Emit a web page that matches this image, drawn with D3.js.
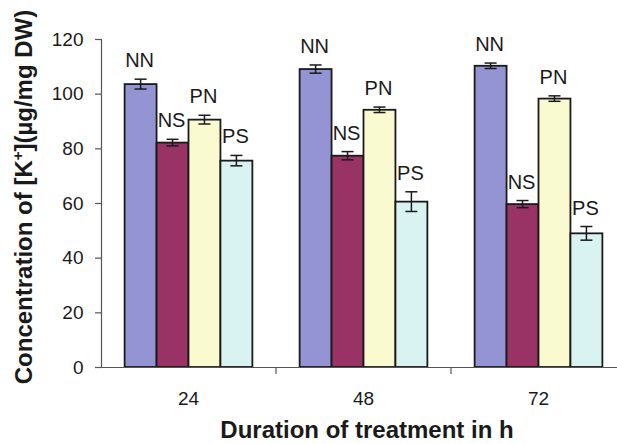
<!DOCTYPE html>
<html>
<head>
<meta charset="utf-8">
<script src="https://cdn.jsdelivr.net/npm/d3@7"></script>
<style>
  body { margin: 0; background: #fff; }
  svg { display: block; font-family: "Liberation Sans", Arial, sans-serif; }
</style>
</head>
<body>
<div id="chart"></div>
<script>
const hours = ['24', '48', '72'];
const treatments = ['NN', 'NS', 'PN', 'PS'];
const colors = ['#9494d4', '#993366', '#fafad0', '#d8f3f2'];
// mean K+ per treatment, one array per time point
const values = [
    [103.5, 82.1, 90.5, 75.5],
    [109.0, 77.3, 94.1, 60.5],
    [110.2, 59.6, 98.2, 48.9]
];
const errors = [
    [1.8, 1.2, 1.6, 1.9],
    [1.5, 1.5, 1.0, 3.6],
    [1.0, 1.3, 1.0, 2.5]
];
const yTicks = [0, 20, 40, 60, 80, 100, 120];

const width = 617, height = 444;
const margin = { top: 39, right: -9, bottom: 77, left: 101 };
const innerW = width - margin.left - margin.right;
const innerH = height - margin.top - margin.bottom;

const svg = d3.select('#chart')
    .append('svg')
    .attr('width', width)
    .attr('height', height);

const g = svg.append('g')
    .attr('transform', `translate(${margin.left}, ${margin.top})`);

const x = d3.scaleBand()
    .domain(hours)
    .range([0, innerW])
    .paddingInner(0.27)
    .paddingOuter(0.135);

const xi = d3.scaleBand()
    .domain(treatments)
    .range([0, x.bandwidth()]);

const y = d3.scaleLinear()
    .domain([0, 120])
    .range([innerH, 0]);

const data = [];
hours.forEach((h, i) => {
    treatments.forEach((t, j) => {
        data.push({ hour: h, treat: t, color: colors[j], value: values[i][j], err: errors[i][j] });
    });
});

const bar = g.selectAll('g.bar')
    .data(data)
    .enter()
    .append('g')
    .attr('class', 'bar')
    .attr('transform', d => `translate(${x(d.hour) + xi(d.treat)}, 0)`);

bar.append('rect')
    .attr('x', 0)
    .attr('y', d => y(d.value))
    .attr('width', xi.bandwidth())
    .attr('height', d => innerH - y(d.value))
    .attr('fill', d => d.color)
    .attr('stroke', '#1a1a1a')
    .attr('stroke-width', 1.8);

const cx = xi.bandwidth() / 2;
bar.append('line')
    .attr('x1', cx).attr('x2', cx)
    .attr('y1', d => y(d.value + d.err))
    .attr('y2', d => y(d.value - d.err))
    .attr('stroke', '#1a1a1a')
    .attr('stroke-width', 1.5);

bar.selectAll('line.cap')
    .data(d => [d.value + d.err, d.value - d.err])
    .enter()
    .append('line')
    .attr('class', 'cap')
    .attr('x1', cx - 6).attr('x2', cx + 6)
    .attr('y1', v => y(v)).attr('y2', v => y(v))
    .attr('stroke', '#1a1a1a')
    .attr('stroke-width', 1.5);

bar.append('text')
    .attr('x', cx - 1)
    .attr('y', d => y(d.value + d.err) - 12)
    .attr('text-anchor', 'middle')
    .style('font-size', '20px')
    .style('fill', '#1a1a1a')
    .text(d => d.treat);

// axes
const yAxis = g.append('g')
    .call(d3.axisLeft(y).tickValues(yTicks).tickSize(6).tickPadding(11.5));

const xAxis = g.append('g')
    .attr('transform', `translate(0, ${innerH})`)
    .call(d3.axisBottom(x).tickSize(0).tickPadding(24.5));

// tick marks between groups
g.append('g')
    .selectAll('line')
    .data(hours.slice(1))
    .enter()
    .append('line')
    .attr('x1', d => x(d) - x.step() * x.paddingInner() / 2)
    .attr('x2', d => x(d) - x.step() * x.paddingInner() / 2)
    .attr('y1', innerH)
    .attr('y2', innerH + 7)
    .attr('stroke', '#555')
    .attr('stroke-width', 1.2);

[yAxis, xAxis].forEach(a => {
    a.select('.domain').attr('stroke', '#555').attr('stroke-width', 1.2);
    a.selectAll('.tick line').attr('stroke', '#555').attr('stroke-width', 1.2);
    a.selectAll('text')
        .style('font-size', '19px')
        .style('font-family', '"Liberation Sans", Arial, sans-serif')
        .style('fill', '#1a1a1a');
});

svg.append('text')
    .attr('x', 367)
    .attr('y', 438)
    .attr('text-anchor', 'middle')
    .style('font-size', '24px')
    .style('font-weight', 'bold')
    .style('fill', '#1a1a1a')
    .text('Duration of treatment in h');

const yTitle = svg.append('text')
    .attr('transform', 'translate(32, 197) rotate(-90)')
    .attr('text-anchor', 'middle')
    .style('font-size', '24px')
    .style('font-weight', 'bold')
    .style('fill', '#1a1a1a');
yTitle.append('tspan').text('Concentration of [K');
yTitle.append('tspan').attr('dy', -9).style('font-size', '15px').text('+');
yTitle.append('tspan').attr('dy', 9).text('](µg/mg DW)');
</script>
</body>
</html>
